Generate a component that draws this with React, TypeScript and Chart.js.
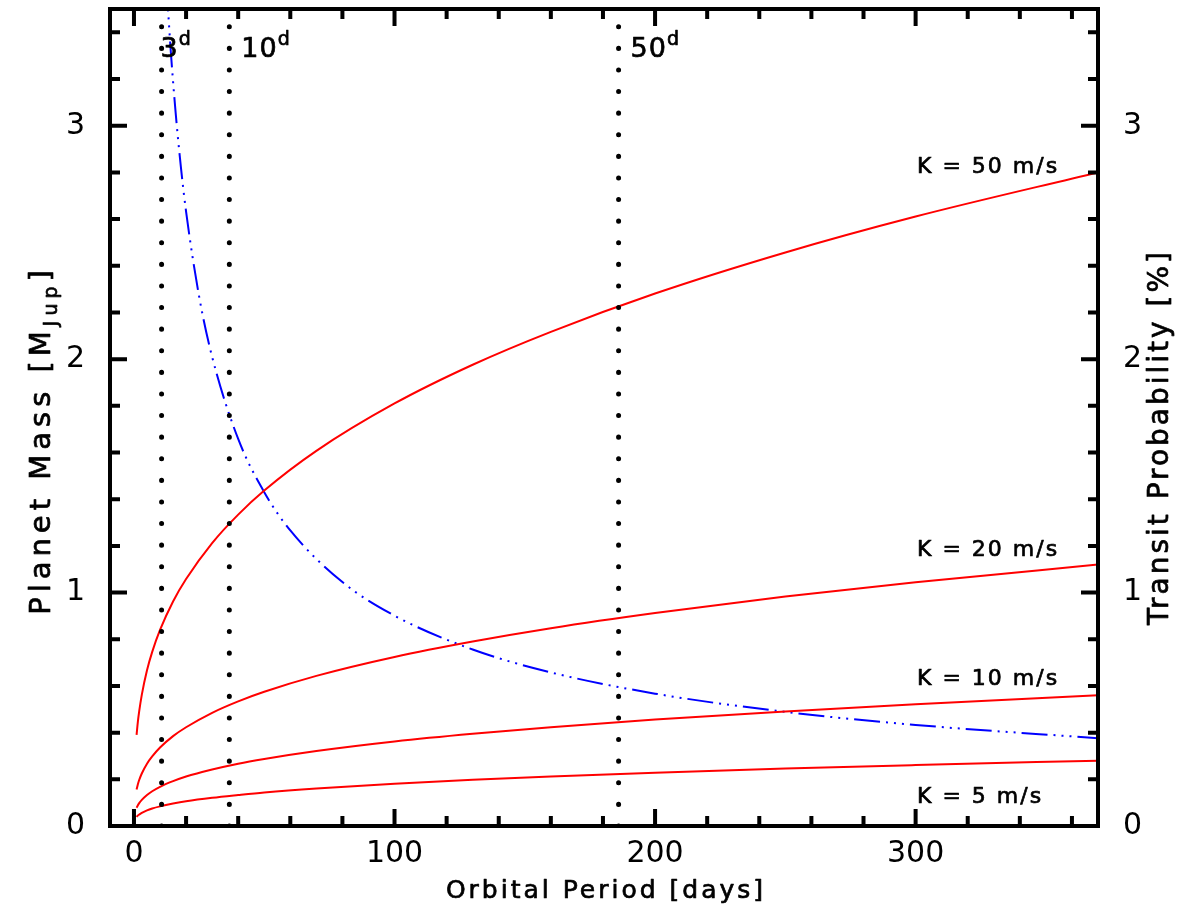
import React, { useEffect, useRef } from "react";
import { Chart, registerables } from "chart.js";

Chart.register(...registerables);

// Orbital periods (days) at which the curves were read
const periods = [1, 1.5, 2, 3, 5, 7, 10, 15, 20, 30, 40, 50, 70, 100, 130, 160, 200, 250, 300, 370];
// Planet mass (M_Jup) for each RV semi-amplitude K
const massK50 = [0.39, 0.447, 0.491, 0.562, 0.667, 0.746, 0.84, 0.962, 1.058, 1.212, 1.334, 1.437, 1.607, 1.81, 1.976, 2.117, 2.281, 2.457, 2.611, 2.8];
const massK20 = [0.156, 0.179, 0.197, 0.225, 0.267, 0.298, 0.336, 0.385, 0.423, 0.485, 0.534, 0.575, 0.643, 0.724, 0.79, 0.847, 0.912, 0.983, 1.044, 1.12];
const massK10 = [0.078, 0.089, 0.098, 0.112, 0.133, 0.149, 0.168, 0.192, 0.212, 0.242, 0.267, 0.287, 0.321, 0.362, 0.395, 0.423, 0.456, 0.491, 0.522, 0.56];
const massK5 = [0.039, 0.045, 0.049, 0.056, 0.067, 0.075, 0.084, 0.096, 0.106, 0.121, 0.133, 0.144, 0.161, 0.181, 0.198, 0.212, 0.228, 0.246, 0.261, 0.28];
const kLabels = ["K = 50 m/s", "K = 20 m/s", "K = 10 m/s", "K = 5 m/s"];

// Transit probability (%)
const transitPeriods = [12.5, 14, 16, 18, 20, 25, 30, 40, 50, 60, 80, 100, 130, 160, 200, 250, 300, 370];
const transitProb = [3.601, 3.339, 3.055, 2.824, 2.632, 2.269, 2.01, 1.658, 1.43, 1.266, 1.045, 0.901, 0.756, 0.658, 0.567, 0.489, 0.433, 0.376];

// Vertical reference periods and their labels
const markerPeriods = [10.6, 36.6, 186];
const markerLabels = ["3", "10", "50"];

// Axis ticks
const xMajorTicks = [0, 100, 200, 300];
const yMajorTicks = [0, 1, 2, 3];

const FONT = "'DejaVu Sans', sans-serif";

const pts = (xs: number[], ys: number[]) => xs.map((x, i) => ({ x, y: ys[i] }));

const framePlugin = {
  id: "frameAndText",
  afterDatasetsDraw(chart: any) {
    const { ctx, chartArea: a, scales } = chart;
    const xs = scales.x;
    const ys = scales.y;
    ctx.save();
    ctx.strokeStyle = "#000";
    ctx.fillStyle = "#000";
    ctx.lineWidth = 4;
    ctx.lineCap = "butt";
    // ticks
    ctx.beginPath();
    for (let v = 0; v <= 360; v += 20) {
      const px = xs.getPixelForValue(v);
      const len = v % 100 === 0 ? 17 : 10;
      ctx.moveTo(px, a.bottom);
      ctx.lineTo(px, a.bottom - len);
      ctx.moveTo(px, a.top);
      ctx.lineTo(px, a.top + len);
    }
    for (let i = 0; i <= 17; i++) {
      const v = i * 0.2;
      const py = ys.getPixelForValue(v);
      const len = i % 5 === 0 ? 17 : 10;
      ctx.moveTo(a.left, py);
      ctx.lineTo(a.left + len, py);
      ctx.moveTo(a.right, py);
      ctx.lineTo(a.right - len, py);
    }
    ctx.stroke();
    // frame
    ctx.strokeRect(a.left, a.top, a.right - a.left, a.bottom - a.top);

    // slightly heavier text
    ctx.lineWidth = 0.7;
    ctx.lineJoin = "round";
    const txt = (t: string, x: number, y: number) => {
      ctx.fillText(t, x, y);
      ctx.strokeText(t, x, y);
    };

    // marker labels
    ctx.textBaseline = "alphabetic";
    ctx.textAlign = "left";
    markerPeriods.forEach((p, i) => {
      const px = xs.getPixelForValue(p);
      const x0 = i === 0 ? px - 1 : px + 12;
      ctx.font = `27px ${FONT}`;
      (ctx as any).letterSpacing = "1px";
      txt(markerLabels[i], x0, 57);
      const w = ctx.measureText(markerLabels[i]).width;
      ctx.font = `19px ${FONT}`;
      txt("d", x0 + w, 45);
    });

    // K labels
    ctx.font = `22px ${FONT}`;
    (ctx as any).letterSpacing = "2px";
    const kPos = [173, 556, 685, 803];
    kLabels.forEach((t, i) => txt(t, 917, kPos[i]));

    // X title
    ctx.font = `25px ${FONT}`;
    (ctx as any).letterSpacing = "3px";
    ctx.textAlign = "center";
    txt("Orbital Period [days]", 606, 898);

    // Rotated titles
    const drawRot = (cx: number, cy: number, spacing: string, parts: { t: string; size: number; dy: number }[]) => {
      ctx.save();
      ctx.translate(cx, cy);
      ctx.rotate(-Math.PI / 2);
      ctx.textAlign = "left";
      (ctx as any).letterSpacing = spacing;
      let total = 0;
      const ws = parts.map((p) => {
        ctx.font = `${p.size}px ${FONT}`;
        const w = ctx.measureText(p.t).width;
        total += w;
        return w;
      });
      let x = -total / 2;
      parts.forEach((p, i) => {
        ctx.font = `${p.size}px ${FONT}`;
        txt(p.t, x, p.dy);
        x += ws[i];
      });
      ctx.restore();
    };
    drawRot(50, 440, "5px", [
      { t: "Planet Mass [M", size: 29, dy: 0 },
      { t: "Jup", size: 19, dy: 7 },
      { t: "]", size: 29, dy: 0 },
    ]);
    drawRot(1168, 437, "3px", [{ t: "Transit Probability [%]", size: 28, dy: 0 }]);
    ctx.restore();
  },
};

export default function App() {
  const ref = useRef<HTMLCanvasElement>(null);
  useEffect(() => {
    document.body.style.margin = "0";
    const red = "#ff0000";
    const redSet = (data: number[]) => ({
      data: pts(periods, data),
      borderColor: red,
      borderWidth: 2,
      pointRadius: 0,
      cubicInterpolationMode: "monotone" as const,
      yAxisID: "y",
    });
    const markerSets = markerPeriods.map((p) => ({
      data: [
        { x: p, y: 0 },
        { x: p, y: 3.5 },
      ],
      borderColor: "#000",
      borderWidth: 5,
      borderCapStyle: "round" as const,
      borderDash: [0.1, 21.5],
      pointRadius: 0,
      yAxisID: "y",
    }));
    const noPadV = (s: any) => {
      s.paddingTop = 0;
      s.paddingBottom = 0;
    };
    const chart = new Chart(ref.current!, {
      type: "scatter",
      data: {
        datasets: [
          ...markerSets,
          redSet(massK50),
          redSet(massK20),
          redSet(massK10),
          redSet(massK5),
          {
            data: pts(transitPeriods, transitProb),
            borderColor: "#0000ff",
            borderWidth: 2,
            borderDash: [26, 6, 2, 6, 2, 6, 2, 6],
            pointRadius: 0,
            cubicInterpolationMode: "monotone" as const,
            yAxisID: "y2",
          },
        ] as any,
      },
      options: {
        animation: false,
        responsive: true,
        maintainAspectRatio: false,
        showLine: true,
        layout: { padding: { top: 9, left: 0, right: 0, bottom: 0 } },
        plugins: { legend: { display: false }, tooltip: { enabled: false } },
        scales: {
          x: {
            type: "linear",
            min: -9.2,
            max: 370,
            afterBuildTicks: (s: any) => {
              s.ticks = xMajorTicks.map((v) => ({ value: v }));
            },
            afterFit: (s: any) => {
              s.height = 88;
              s.paddingLeft = 0;
              s.paddingRight = 0;
            },
            ticks: { font: { family: FONT, size: 30 }, color: "#000", padding: 10, maxRotation: 0, autoSkip: false },
            grid: { display: false, drawTicks: false },
            border: { display: false },
          },
          y: {
            type: "linear",
            position: "left",
            min: 0,
            max: 3.5,
            afterBuildTicks: (s: any) => {
              s.ticks = yMajorTicks.map((v) => ({ value: v }));
            },
            afterFit: (s: any) => {
              s.width = 110;
              noPadV(s);
            },
            ticks: { font: { family: FONT, size: 30 }, color: "#000", padding: 25, autoSkip: false },
            grid: { display: false, drawTicks: false },
            border: { display: false },
          },
          y2: {
            type: "linear",
            position: "right",
            min: 0,
            max: 3.5,
            afterBuildTicks: (s: any) => {
              s.ticks = yMajorTicks.map((v) => ({ value: v }));
            },
            afterFit: (s: any) => {
              s.width = 88;
              noPadV(s);
            },
            ticks: { font: { family: FONT, size: 30 }, color: "#000", padding: 25, autoSkip: false },
            grid: { display: false, drawTicks: false },
            border: { display: false },
          },
        },
      } as any,
      plugins: [framePlugin],
    });
    return () => chart.destroy();
  }, []);
  return (
    <div style={{ position: "relative", width: 1186, height: 914, background: "#fff" }}>
      <canvas ref={ref} />
    </div>
  );
}
